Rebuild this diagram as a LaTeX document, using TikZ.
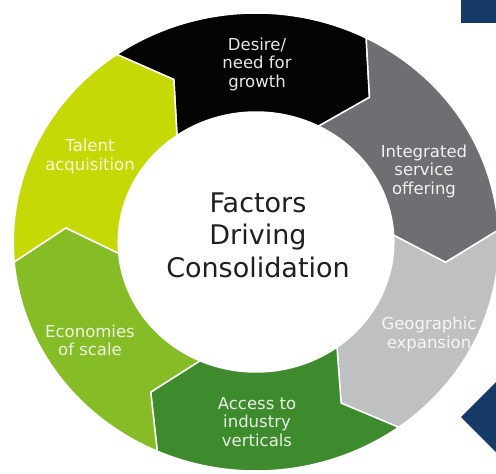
\documentclass[tikz,border=0pt]{standalone}
\usepackage{fontspec}
\setmainfont{DejaVu Sans}
\usetikzlibrary{calc,positioning}

\definecolor{growthblack}{RGB}{4,4,4}
\definecolor{servicegray}{RGB}{110,111,114}
\definecolor{geolightgray}{RGB}{191,192,194}
\definecolor{accessgreen}{RGB}{61,139,44}
\definecolor{scalegreen}{RGB}{134,188,37}
\definecolor{talentlime}{RGB}{198,216,6}
\definecolor{cornernavy}{RGB}{22,58,102}

\newcommand{\outerR}{229}
\newcommand{\innerR}{130}
\newcommand{\tipR}{180}
% one chevron piece of the ring, from angle #1 down to angle #2
\newcommand{\ringseg}[3]{%
 \fill[segline, fill=#3] (#1:\outerR) arc[start angle=#1, end angle=#2, radius=\outerR]
  -- ({#2-9.5}:\tipR) -- (#2:\innerR)
  arc[start angle=#2, end angle=#1, radius=\innerR]
  -- ({#1-9.5}:\tipR) -- cycle;}

\begin{document}
\begin{tikzpicture}[x=1pt, y=1pt,
 segline/.style={draw=white, line width=1.5pt, line join=round},
 segtext/.style={align=center, font=\fontsize{16.5}{18.5}\selectfont},
 bigtext/.style={align=center, text=black!88, font=\fontsize{27}{32.5}\selectfont}]

\useasboundingbox (-256,-232) rectangle (240,242);
\clip (-256,-232) rectangle (240,242);

\begin{scope}[x=1.06pt]
\ringseg{125}{63}{growthblack}
\ringseg{63}{3}{servicegray}
\ringseg{3}{-54}{geolightgray}
\ringseg{-54}{-114}{accessgreen}
\ringseg{-114}{-175}{scalegreen}
\ringseg{185}{125}{talentlime}
\end{scope}

\fill[cornernavy] (205,242) rectangle (240,219);
\fill[cornernavy] (205,-175) -- (240,-140) -- (240,-210) -- cycle;

\node[bigtext] (factors) at (2,7) {Factors\\Driving\\Consolidation};

\node[segtext, text=white!90!growthblack] (growth) at (1,178) {Desire/\\need for\\growth};
\node[segtext, text=white!90!servicegray] (service) at (168,71) {Integrated\\service\\offering};
\node[segtext, text=white!85!geolightgray] (geo) at (173,-92.5) {Geographic\\expansion};
\node[segtext, text=white!87!accessgreen] (access) at (1,-180) {Access to\\industry\\verticals};
\node[segtext, text=white!87!scalegreen] (scale) at (-166,-98.5) {Economies\\of scale};
\node[segtext, text=white!85!talentlime] (talent) at (-166,85.5) {Talent\\acquisition};
\end{tikzpicture}
\end{document}
